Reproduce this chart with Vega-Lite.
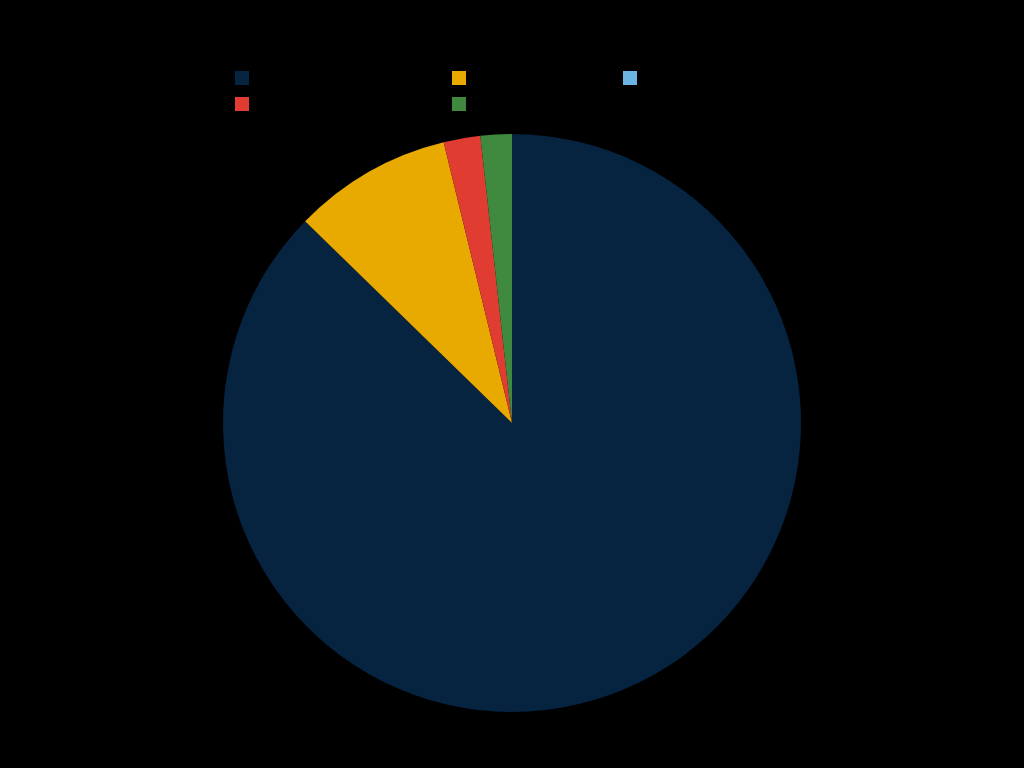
{
  "$schema": "https://vega.github.io/schema/vega-lite/v6.json",
  "width": 578,
  "height": 578,
  "autosize": "none",
  "padding": {"left": 223, "top": 134, "right": 223, "bottom": 56},
  "background": "#000000",
  "view": {"stroke": null},
  "data": {
    "values": [
      {"category": "Category One (largest share)", "value": 87.3, "idx": 1},
      {"category": "Category Two (in seconds)", "value": 8.9, "idx": 2},
      {"category": "Category Three", "value": 0.0, "idx": 3},
      {"category": "Category Four (small share of total)", "value": 2.05, "idx": 4},
      {"category": "Category Five", "value": 1.75, "idx": 5}
    ]
  },
  "mark": {"type": "arc", "stroke": null},
  "encoding": {
    "theta": {"field": "value", "type": "quantitative", "stack": true},
    "order": {"field": "idx", "type": "quantitative"},
    "color": {
      "field": "category",
      "type": "nominal",
      "scale": {
        "domain": ["Category One (largest share)", "Category Two (in seconds)", "Category Three", "Category Four (small share of total)", "Category Five"],
        "range": ["#062340", "#E8A900", "#6CB4E4", "#E03C31", "#3F8A3F"]
      },
      "legend": {
        "orient": "none",
        "direction": "horizontal",
        "legendX": 12,
        "legendY": -63,
        "title": null,
        "columns": 3,
        "symbolType": "square",
        "symbolSize": 196,
        "symbolStrokeWidth": 0,
        "labelColor": "#000000",
        "labelFontSize": 12,
        "labelLimit": 400,
        "rowPadding": 12,
        "columnPadding": 10
      }
    }
  }
}
